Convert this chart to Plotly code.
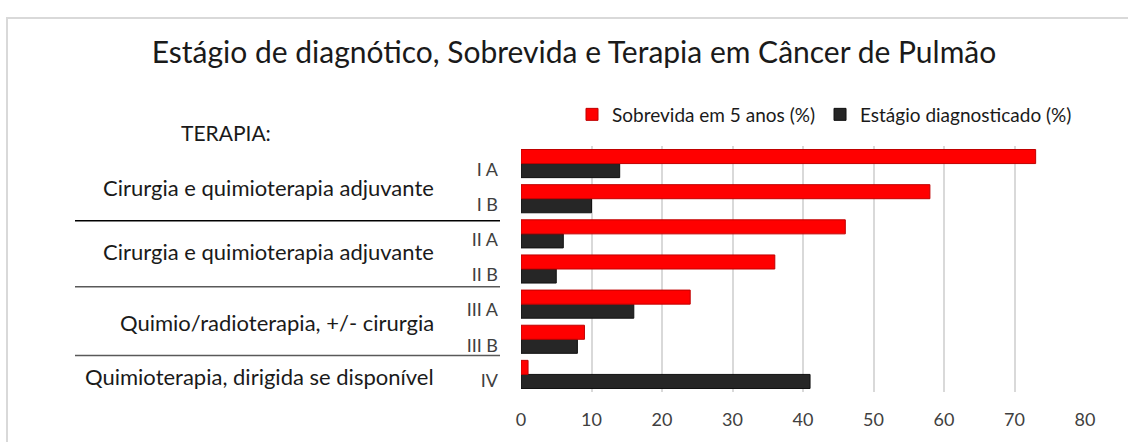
import plotly.graph_objects as go

# dados
estagios = ["I A", "I B", "II A", "II B", "III A", "III B", "IV"]
sobrevida_5anos = [73, 58, 46, 36, 24, 9, 1]
estagio_diagnosticado = [14, 10, 6, 5, 16, 8, 41]

terapias = [
    "Cirurgia e quimioterapia adjuvante",
    "Cirurgia e quimioterapia adjuvante",
    "Quimio/radioterapia, +/- cirurgia",
    "Quimioterapia, dirigida se disponível",
]
x_ticks = list(range(0, 90, 10))

W, H = 1128, 442
L, R, T, B = 521, 43, 146, 46


# converte pixels da imagem para coordenadas "paper"
def px_x(x):
    return (x - L) / (W - L - R)


def px_y(y):
    return (H - B - y) / (H - T - B)


fonte = "Lato"

fig = go.Figure()

# a série escura vem primeiro para ficar embaixo em cada grupo
fig.add_trace(go.Bar(
    y=estagios, x=estagio_diagnosticado, orientation="h",
    name="Estágio diagnosticado (%)",
    marker=dict(color="#262626", line=dict(color="#111111", width=1)),
))
fig.add_trace(go.Bar(
    y=estagios, x=sobrevida_5anos, orientation="h",
    name="Sobrevida em 5 anos (%)",
    marker=dict(color="#ff0000", line=dict(color="#c00000", width=1)),
))

fig.update_layout(
    width=W, height=H, autosize=False,
    margin=dict(l=L, r=R, t=T, b=B),
    paper_bgcolor="white", plot_bgcolor="white",
    font=dict(family=fonte, color="#262626"),
    barmode="group", bargap=0.2, bargroupgap=0,
    showlegend=True,
    title=dict(
        text="Estágio de diagnótico, Sobrevida e Terapia em Câncer de Pulmão",
        x=574 / W, y=1 - 52 / H, xanchor="center", yanchor="middle",
        font=dict(family=fonte, size=30, color="#1a1a1a"),
    ),
    legend=dict(
        orientation="h", traceorder="reversed",
        x=px_x(572), y=px_y(114), xanchor="left", yanchor="middle",
        font=dict(family=fonte, size=19, color="#1a1a1a"),
        bgcolor="rgba(0,0,0,0)", itemwidth=30,
    ),
)

fig.update_xaxes(
    range=[0, 80], tickvals=x_ticks,
    showgrid=True, gridcolor="#d9d9d9", gridwidth=1.5,
    zeroline=False, showline=False,
    tickfont=dict(family=fonte, size=18, color="#404040"),
    ticklabelstandoff=15,
)
fig.update_yaxes(
    type="category", categoryorder="array", categoryarray=estagios[::-1],
    showgrid=False, zeroline=False, showline=False,
    tickfont=dict(family=fonte, size=18, color="#404040"),
    ticklabelstandoff=22, ticklabelshift=6,
)

# moldura cinza do gráfico
fig.add_shape(type="rect", xref="paper", yref="paper",
              x0=px_x(7), x1=px_x(1140), y0=px_y(460), y1=px_y(16),
              line=dict(color="#d9d9d9", width=2), layer="below")

# coluna de terapias à esquerda
fig.add_annotation(text="TERAPIA:", xref="paper", yref="paper",
                   x=px_x(226), y=px_y(132), xanchor="center", yanchor="middle",
                   showarrow=False, font=dict(family=fonte, size=21, color="#1a1a1a"))

y_terapias = [188, 253, 325, 380]
for texto, yy in zip(terapias, y_terapias):
    fig.add_annotation(text=texto, xref="paper", yref="paper",
                       x=px_x(436), y=px_y(yy), xanchor="right", yanchor="middle",
                       showarrow=False, font=dict(family=fonte, size=22, color="#1a1a1a"))

# linhas separando os grupos de terapia
for yy, cor in zip([222, 289, 359], ["#000000", "#595959", "#595959"]):
    fig.add_shape(type="line", xref="paper", yref="paper",
                  x0=px_x(75), x1=px_x(500), y0=px_y(yy), y1=px_y(yy),
                  line=dict(color=cor, width=1.5))

# tira a margem padrão do <body> para o gráfico começar no canto da janela
fig.write_html("out.html", config={"displayModeBar": False},
               post_script="document.body.style.margin='0';")
